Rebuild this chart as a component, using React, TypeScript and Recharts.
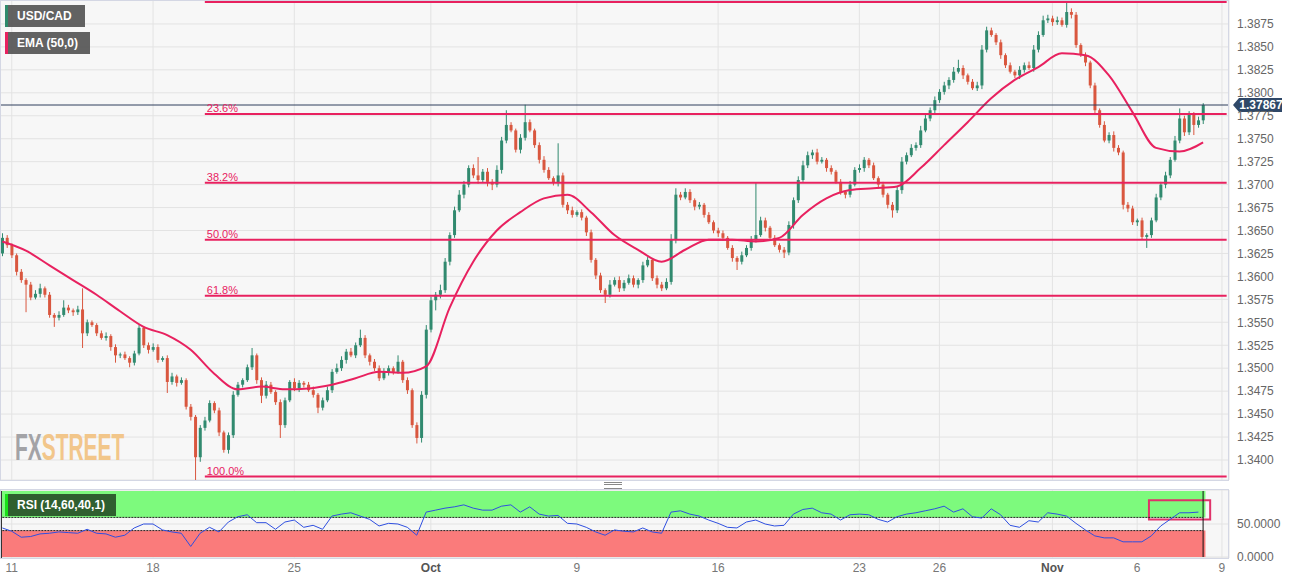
import React from "react";
import {
  ComposedChart,
  Bar,
  Line,
  XAxis,
  YAxis,
  CartesianGrid,
  ReferenceLine,
  ReferenceArea,
} from "recharts";

// USD/CAD 4h candles, prices in pips above 1.0000 (3642 = 1.3642)
const firstOpen = 3625;
const closes = [
  3642, 3634, 3623, 3605, 3596, 3591, 3577, 3581, 3587, 3580,
  3558, 3555, 3558, 3566, 3563, 3561, 3564, 3538, 3550, 3547,
  3538, 3533, 3535, 3523, 3514, 3515, 3511, 3506, 3516, 3544,
  3525, 3520, 3523, 3509, 3511, 3485, 3491, 3484, 3487, 3458,
  3447, 3403, 3435, 3443, 3462, 3454, 3430, 3411, 3427, 3471,
  3482, 3487, 3501, 3514, 3487, 3470, 3482, 3474, 3463, 3438,
  3465, 3485, 3478, 3484, 3482, 3476, 3471, 3457, 3465, 3476,
  3496, 3500, 3509, 3518, 3514, 3525, 3533, 3514, 3507, 3500,
  3489, 3496, 3500, 3496, 3507, 3487, 3476, 3438, 3424, 3471,
  3542, 3574, 3580, 3585, 3616, 3645, 3672, 3689, 3700, 3718,
  3710, 3705, 3714, 3703, 3700, 3716, 3748, 3765, 3759, 3738,
  3751, 3768, 3759, 3743, 3727, 3716, 3707, 3702, 3710, 3678,
  3672, 3667, 3670, 3664, 3648, 3618, 3601, 3585, 3580, 3591,
  3596, 3587, 3593, 3598, 3591, 3596, 3612, 3618, 3598, 3591,
  3587, 3594, 3640, 3689, 3686, 3692, 3683, 3676, 3678, 3667,
  3659, 3650, 3647, 3642, 3631, 3620, 3616, 3623, 3631, 3640,
  3645, 3661, 3653, 3642, 3634, 3629, 3626, 3656, 3683, 3705,
  3721, 3732, 3735, 3725, 3727, 3718, 3714, 3703, 3692, 3689,
  3700, 3716, 3718, 3727, 3721, 3707, 3700, 3689, 3678, 3672,
  3694, 3725, 3732, 3740, 3743, 3759, 3772, 3781, 3792, 3801,
  3808, 3814, 3823, 3827, 3819, 3812, 3805, 3808, 3847, 3868,
  3863, 3855, 3841, 3830, 3823, 3819, 3825, 3830, 3827, 3847,
  3863, 3879, 3881, 3877, 3879, 3874, 3888, 3885, 3852, 3841,
  3833, 3808, 3781, 3765, 3748, 3754, 3740, 3735, 3678, 3674,
  3659, 3661, 3643, 3645, 3661, 3686, 3700, 3710, 3727, 3748,
  3772, 3757, 3776, 3765, 3770, 3786.7,
];
// wick length above / below the body, pips
const wickUp = [
  5, 3, 2, 2, 3, 2, 3, 4, 5, 2, 3, 2, 4, 8, 3, 2, 4, 23, 3, 2,
  2, 3, 4, 2, 3, 2, 3, 2, 3, 3, 2, 3, 4, 3, 2, 3, 4, 2, 3, 2,
  3, 2, 3, 4, 3, 2, 3, 2, 3, 4, 3, 2, 3, 8, 2, 3, 4, 3, 2, 3,
  3, 2, 4, 3, 2, 3, 4, 2, 3, 4, 3, 5, 4, 3, 4, 3, 9, 3, 2, 3,
  3, 4, 3, 2, 7, 2, 3, 2, 3, 4, 5, 4, 3, 6, 4, 3, 4, 5, 4, 3,
  4, 20, 3, 4, 3, 5, 4, 16, 3, 2, 4, 19, 3, 2, 3, 4, 3, 2, 35, 3,
  3, 4, 2, 3, 2, 3, 2, 3, 2, 5, 3, 4, 3, 4, 3, 2, 4, 3, 2, 3,
  3, 4, 6, 7, 3, 4, 3, 2, 3, 2, 3, 2, 3, 3, 2, 3, 2, 4, 3, 4,
  57, 4, 3, 2, 3, 2, 3, 4, 3, 4, 5, 4, 3, 4, 3, 2, 3, 2, 3, 2,
  4, 3, 4, 3, 2, 3, 2, 3, 2, 3, 4, 5, 3, 4, 3, 5, 4, 3, 4, 3,
  4, 3, 5, 9, 3, 2, 3, 4, 5, 4, 3, 2, 3, 2, 3, 2, 4, 3, 4, 5,
  4, 5, 4, 3, 4, 3, 10, 4, 3, 2, 3, 2, 3, 2, 4, 3, 4, 3, 2, 3,
  3, 2, 3, 2, 3, 4, 3, 4, 3, 5, 11, 3, 4, 3, 4, 2,
];
const wickDn = [
  3, 3, 3, 4, 3, 30, 3, 2, 4, 3, 3, 10, 3, 2, 3, 4, 3, 16, 3, 2,
  3, 2, 3, 4, 8, 3, 2, 5, 3, 2, 3, 4, 2, 3, 2, 12, 3, 4, 2, 3,
  4, 25, 5, 3, 2, 3, 4, 3, 4, 3, 2, 3, 2, 3, 4, 8, 3, 2, 3, 14,
  3, 2, 3, 4, 3, 2, 3, 6, 3, 2, 3, 2, 3, 4, 2, 3, 2, 3, 4, 3,
  3, 2, 4, 3, 2, 3, 4, 3, 6, 5, 4, 3, 11, 4, 3, 4, 3, 2, 4, 3,
  3, 4, 3, 5, 6, 3, 4, 3, 2, 3, 4, 3, 2, 3, 4, 3, 2, 3, 4, 3,
  4, 3, 2, 3, 4, 3, 4, 3, 9, 3, 2, 4, 3, 2, 3, 4, 3, 2, 3, 4,
  3, 2, 3, 4, 3, 2, 3, 4, 3, 3, 2, 3, 4, 3, 2, 4, 9, 3, 2, 3,
  3, 2, 4, 3, 2, 3, 6, 3, 4, 3, 2, 3, 4, 3, 2, 4, 3, 2, 3, 4,
  3, 2, 3, 4, 3, 2, 4, 3, 4, 8, 3, 4, 3, 2, 3, 3, 2, 3, 4, 3,
  3, 4, 3, 2, 4, 3, 2, 3, 4, 3, 2, 3, 4, 3, 2, 3, 4, 3, 2, 4,
  3, 2, 3, 4, 3, 2, 3, 4, 3, 2, 4, 3, 4, 3, 2, 3, 4, 3, 5, 4,
  3, 4, 3, 12, 3, 2, 3, 4, 3, 2, 3, 4, 3, 11, 3, 4,
];

// EMA(50), read every 5th candle
const emaEvery = 5;
const ema = [
  3638, 3628, 3612, 3596, 3580, 3562, 3545, 3536, 3520, 3494,
  3477, 3480, 3477, 3478, 3482, 3489, 3496, 3495, 3502, 3566,
  3616, 3650, 3670, 3685, 3689, 3670, 3645, 3629, 3616, 3629,
  3640, 3640, 3638, 3642, 3667, 3685, 3694, 3696, 3698, 3718,
  3743, 3768, 3794, 3814, 3828, 3843, 3841, 3819, 3779, 3740,
  3736, 3746,
];

// RSI(14), read every 2nd candle
const rsiEvery = 2;
const rsi = [
  44, 39, 30, 31, 35, 36, 38, 37, 36, 42,
  36, 35, 30, 33, 44, 50, 50, 41, 38, 36,
  16, 36, 45, 38, 53, 61, 64, 52, 52, 42,
  53, 56, 45, 48, 42, 62, 65, 67, 62, 57,
  47, 51, 50, 45, 33, 68, 71, 74, 76, 79,
  74, 71, 71, 77, 79, 68, 76, 65, 62, 63,
  51, 50, 45, 38, 33, 41, 39, 38, 44, 38,
  36, 68, 70, 65, 62, 56, 51, 45, 44, 53,
  56, 50, 47, 48, 65, 72, 74, 67, 65, 56,
  64, 65, 64, 57, 53, 61, 65, 67, 70, 73,
  77, 68, 73, 61, 59, 73, 64, 48, 45, 55,
  53, 67, 65, 62, 51, 41, 32, 29, 29, 23,
  23, 23, 32, 47, 57, 67, 67, 68,
];

const dateTickIdx = [2, 32, 62, 91, 122, 152, 182, 199, 223, 241, 259];
const dateTickLabels = ["11", "18", "25", "Oct", "9", "16", "23", "26", "Nov", "6", "9"];

const priceTicks = [
  1.34, 1.3425, 1.345, 1.3475, 1.35, 1.3525, 1.355, 1.3575, 1.36, 1.3625,
  1.365, 1.3675, 1.37, 1.3725, 1.375, 1.3775, 1.38, 1.3825, 1.385, 1.3875,
];
const fibLevels = [1.3899, 1.3777, 1.3702, 1.364, 1.3579, 1.3382];
const fibLabels = ["", "23.6%", "38.2%", "50.0%", "61.8%", "100.0%"];
const fibStart = 43;
const lastPrice = 1.37867;
const slotCount = 261;

const GREEN = "#318a6f";
const RED = "#d9573f";
const PINK = "#e8215f";
const FONT = "'Liberation Sans', Arial, sans-serif";

const toPrice = (v: number) => 1 + v / 10000;

const rows = Array.from({ length: slotCount }, (_, k) => {
  if (k >= closes.length) return { k };
  const c = closes[k];
  const o = k === 0 ? firstOpen : closes[k - 1];
  const h = Math.max(o, c) + wickUp[k];
  const l = Math.min(o, c) - wickDn[k];
  return {
    k,
    o: toPrice(o),
    c: toPrice(c),
    h: toPrice(h),
    l: toPrice(l),
    range: [toPrice(l), toPrice(h)],
    ema: k % emaEvery === 0 ? toPrice(ema[k / emaEvery]) : null,
    rsi: k % rsiEvery === 0 ? rsi[k / rsiEvery] : null,
  };
});
const lastIdx = closes.length - 1;

const Candle = (props: any) => {
  const { x, y, width, height, payload } = props;
  if (!payload || payload.h == null) return null;
  const { o, c, h, l } = payload;
  const top = Math.min(y, y + height);
  const bottom = Math.max(y, y + height);
  const yOf = (p: number) => (h === l ? top : top + ((h - p) / (h - l)) * (bottom - top));
  const cx = x + width / 2;
  const col = c >= o ? GREEN : RED;
  const bTop = Math.min(yOf(o), yOf(c));
  const bH = Math.max(1, Math.abs(yOf(o) - yOf(c)));
  return (
    <g>
      <line x1={cx} x2={cx} y1={top} y2={bottom} stroke={col} strokeWidth={1} />
      <rect x={cx - 1.5} y={bTop} width={3} height={bH} fill={col} />
    </g>
  );
};

const PriceTag = (props: any) => {
  const vb = props.viewBox;
  if (!vb) return null;
  const x = vb.x + vb.width + 4;
  const y = vb.y;
  return (
    <g>
      <path
        d={`M${x} ${y} L${x + 6} ${y - 7} L${x + 49} ${y - 7} L${x + 49} ${y + 7} L${x + 6} ${y + 7} Z`}
        fill="#2f4868"
      />
      <text x={x + 28} y={y + 4} textAnchor="middle" fill="#fff" fontSize={12} fontWeight={700} fontFamily={FONT}>
        {lastPrice.toFixed(5)}
      </text>
    </g>
  );
};

const DateTick = (props: any) => {
  const i = dateTickIdx.indexOf(props.payload.value);
  const lab = dateTickLabels[i] ?? "";
  const bold = lab === "Oct" || lab === "Nov";
  return (
    <text
      x={props.x}
      y={props.y + 10}
      textAnchor="middle"
      fontSize={12}
      fontFamily={FONT}
      fontWeight={bold ? 700 : 400}
      fill={bold ? "#555" : "#777"}
    >
      {lab}
    </text>
  );
};

const tagBox = (bar: string, bg: string, w: number): React.CSSProperties => ({
  position: "absolute",
  left: 5,
  width: w,
  height: 22,
  background: bg,
  borderLeft: `3px solid ${bar}`,
  boxSizing: "border-box",
  color: "#fff",
  fontSize: 12,
  fontWeight: 700,
  lineHeight: "22px",
  paddingLeft: 9,
  fontFamily: FONT,
});

export default function App() {
  return (
    <div style={{ position: "absolute", left: 0, top: 0, width: 1300, height: 584, background: "#fff", overflow: "hidden" }}>
      <div style={{ position: "absolute", left: 0, top: 0 }}>
        <ComposedChart width={1300} height={480} data={rows} margin={{ top: 0, right: 0, bottom: 0, left: 0 }}>
          <CartesianGrid stroke="#e3e3e3" fill="#f7f7f7" />
          <XAxis dataKey="k" type="category" scale="band" hide ticks={dateTickIdx} interval={0} />
          <YAxis
            orientation="right"
            width={71}
            domain={[1.33782, 1.39011]}
            allowDataOverflow
            ticks={priceTicks}
            interval={0}
            tickFormatter={(v: number) => v.toFixed(4)}
            tick={{ fill: "#666", fontSize: 12, fontFamily: FONT }}
            tickLine={false}
            axisLine={false}
          />
          {fibLevels.map((lv, i) => (
            <ReferenceLine
              key={lv}
              segment={[{ x: fibStart, y: lv }, { x: slotCount - 1, y: lv }]}
              stroke={PINK}
              strokeWidth={2}
              label={
                fibLabels[i]
                  ? { value: fibLabels[i], position: "insideBottomLeft", offset: 2, fill: PINK, fontSize: 11, fontFamily: FONT }
                  : undefined
              }
            />
          ))}
          <Bar dataKey="range" barSize={3} shape={(p: any) => <Candle {...p} />} isAnimationActive={false} />
          <Line
            dataKey="ema"
            type="monotone"
            stroke={PINK}
            strokeWidth={2}
            dot={false}
            activeDot={false}
            connectNulls
            isAnimationActive={false}
          />
          <ReferenceLine y={lastPrice} stroke="#2e3f5c" strokeWidth={1} label={(p: any) => <PriceTag {...p} />} />
        </ComposedChart>
      </div>
      <div style={{ position: "absolute", left: 0, top: 0, width: 1229, height: 481, border: "1px solid #d4d7e4", boxSizing: "border-box", pointerEvents: "none" }} />

      <div style={{ position: "absolute", left: 0, top: 489 }}>
        <ComposedChart width={1300} height={95} data={rows} margin={{ top: 1, right: 0, bottom: 0, left: 0 }}>
          <CartesianGrid stroke="#e3e3e3" fill="#f7f7f7" />
          <XAxis
            dataKey="k"
            type="category"
            scale="band"
            ticks={dateTickIdx}
            interval={0}
            height={26}
            tickSize={0}
            tickMargin={4}
            tickLine={false}
            axisLine={false}
            tick={(p: any) => <DateTick {...p} />}
          />
          <YAxis
            orientation="right"
            width={71}
            domain={[-1.5, 101.5]}
            allowDataOverflow
            ticks={[0, 50]}
            interval={0}
            tickFormatter={(v: number) => v.toFixed(4)}
            tick={{ fill: "#666", fontSize: 12, fontFamily: FONT }}
            tickLine={false}
            axisLine={false}
          />
          <ReferenceArea x1={0} x2={lastIdx} y1={60} y2={100} fill="#7dfa7d" fillOpacity={1} stroke="none" />
          <ReferenceArea x1={0} x2={lastIdx} y1={0} y2={40} fill="#fa7b7b" fillOpacity={1} stroke="none" />
          <ReferenceLine segment={[{ x: 0, y: 60 }, { x: lastIdx, y: 60 }]} stroke="#222" strokeDasharray="2 1" />
          <ReferenceLine segment={[{ x: 0, y: 40 }, { x: lastIdx, y: 40 }]} stroke="#222" strokeDasharray="2 1" />
          <ReferenceLine segment={[{ x: lastIdx, y: 0 }, { x: lastIdx, y: 100 }]} stroke="#111" />
          <Line
            dataKey="rsi"
            type="linear"
            stroke="#2f4fe0"
            strokeWidth={1}
            dot={false}
            activeDot={false}
            connectNulls
            isAnimationActive={false}
          />
          <ReferenceArea x1={244} x2={256} y1={57} y2={86} fill="none" stroke="#e0336a" strokeWidth={2} />
        </ComposedChart>
      </div>
      <div style={{ position: "absolute", left: 0, top: 489, width: 1229, height: 70, border: "1px solid #d4d7e4", boxSizing: "border-box", pointerEvents: "none" }} />
      <div style={{ position: "absolute", left: 1, top: 491, width: 1, height: 67, background: "#333", pointerEvents: "none" }} />

      <div style={{ position: "absolute", left: 604, top: 482, width: 18, height: 5, borderTop: "1px solid #888", borderBottom: "1px solid #888" }} />
      <div style={{ position: "absolute", left: 604, top: 484, width: 18, height: 0, borderTop: "1px solid #888" }} />

      <div style={{ ...tagBox("#2f8a6c", "rgba(85,85,85,0.92)", 80), top: 5 }}>USD/CAD</div>
      <div style={{ ...tagBox(PINK, "rgba(85,85,85,0.92)", 85), top: 32 }}>EMA (50,0)</div>
      <div style={{ ...tagBox("#19e019", "#2f5f2f", 111), top: 494 }}>RSI (14,60,40,1)</div>

      <svg style={{ position: "absolute", left: 0, top: 420 }} width={200} height={50}>
        <g transform="translate(15 40) scale(0.565 1)">
          <text x={0} y={0} fontSize={37} fontWeight={700} fontFamily={FONT}>
            <tspan fill="#a3a3a6">FX</tspan>
            <tspan fill="#f2c68a">STREET</tspan>
          </text>
        </g>
      </svg>
    </div>
  );
}
